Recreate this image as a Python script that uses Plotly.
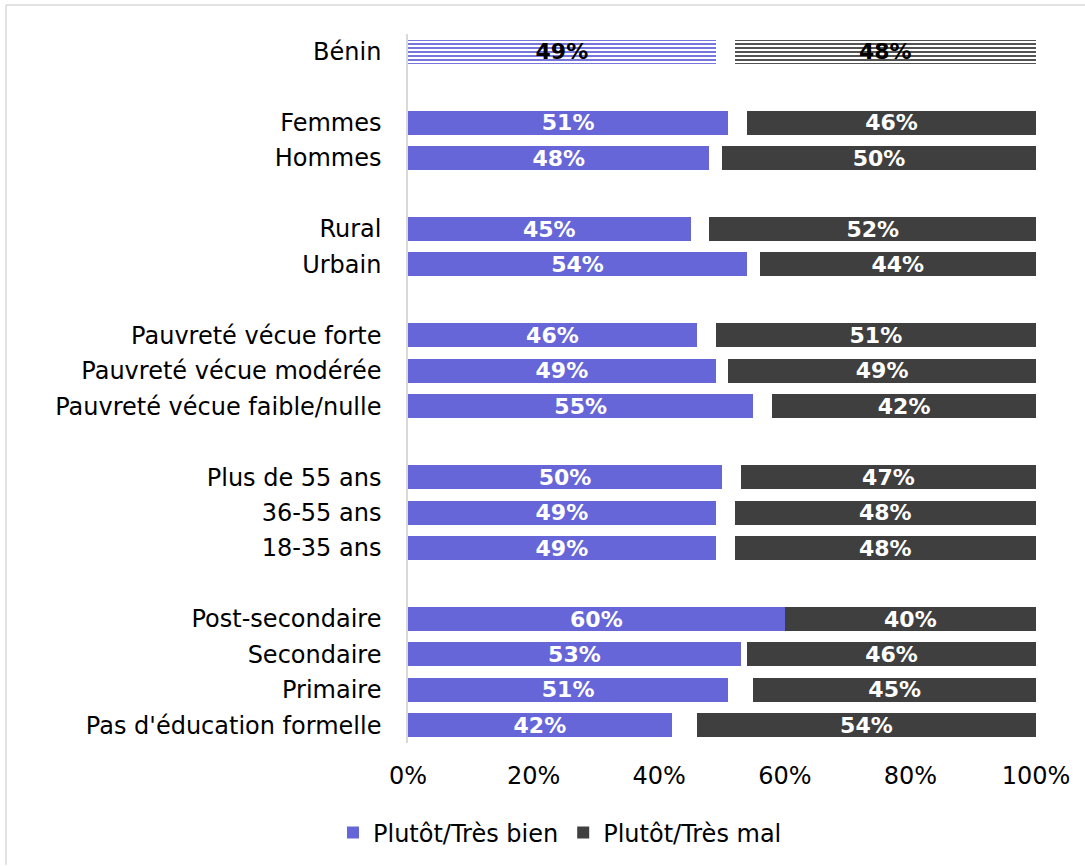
import plotly.graph_objects as go

# Groups separated by an empty slot on the category axis
categories = [
    "Bénin", "",
    "Femmes", "Hommes", "",
    "Rural", "Urbain", "",
    "Pauvreté vécue forte", "Pauvreté vécue modérée", "Pauvreté vécue faible/nulle", "",
    "Plus de 55 ans", "36-55 ans", "18-35 ans", "",
    "Post-secondaire", "Secondaire", "Primaire", "Pas d'éducation formelle",
]
bien = [49, None, 51, 48, None, 45, 54, None, 46, 49, 55, None, 50, 49, 49, None, 60, 53, 51, 42]
mal = [48, None, 46, 50, None, 52, 44, None, 51, 49, 42, None, 47, 48, 48, None, 40, 46, 45, 54]
x_ticks = [0, 20, 40, 60, 80, 100]

BLUE = "#6666D9"
DARK = "#3F3F3F"
FONT = "DejaVu Sans"
BAR_W = 0.68

rows = [i for i, c in enumerate(categories) if c]
labels = [categories[i] for i in rows]
b = [bien[i] for i in rows]
m = [mal[i] for i in rows]
gap = [100 - bb - mm for bb, mm in zip(b, m)]
is_total = [lab == "Bénin" for lab in labels]

fig = go.Figure()

def add_stack(idx, patterned, showlegend):
    ys = [rows[i] for i in idx]
    bb = [b[i] for i in idx]
    gg = [gap[i] for i in idx]
    mm = [m[i] for i in idx]
    for vals, color, name, legend in [
        (bb, BLUE, "Plutôt/Très bien", showlegend),
        (gg, "rgba(0,0,0,0)", None, False),
        (mm, DARK, "Plutôt/Très mal", showlegend),
    ]:
        marker = dict(color=color, line=dict(width=0))
        if patterned and name:
            marker["pattern"] = dict(shape="-", fgcolor=color, bgcolor="white",
                                     size=4, solidity=0.45, fillmode="replace")
        fig.add_trace(go.Bar(
            y=ys, x=vals, orientation="h", name=name, showlegend=legend,
            legendgroup=name, marker=marker, width=BAR_W, hoverinfo="skip",
        ))

# Solid bars first so the legend shows solid swatches, then the patterned total row
add_stack([i for i, t in enumerate(is_total) if not t], False, True)
add_stack([i for i, t in enumerate(is_total) if t], True, False)

# Percentage labels centred on each segment
for vals, centers in [
    (b, [v / 2 for v in b]),
    (m, [100 - v / 2 for v in m]),
]:
    fig.add_trace(go.Scatter(
        x=centers, y=[r + 0.06 for r in rows], mode="text",
        text=[f"{v}%" for v in vals], showlegend=False, hoverinfo="skip",
        textfont=dict(family=FONT, size=22, weight="bold",
                      color=["black" if t else "white" for t in is_total]),
    ))

W, H = 1085, 866
ml, mr, mt, mb = 408, 49, 34, 122
pw, ph = W - ml - mr, H - mt - mb

def px_x(x):
    return (x - ml) / pw

def px_y(y):
    return 1 - (y - mt) / ph

fig.update_layout(
    width=W, height=H, barmode="stack", bargap=0,
    margin=dict(l=ml, r=mr, t=mt, b=mb),
    paper_bgcolor="white", plot_bgcolor="white",
    font=dict(family=FONT, size=24, color="black"),
    legend=dict(
        orientation="h", x=px_x(560), xanchor="center", y=px_y(833), yanchor="middle",
        font=dict(family=FONT, size=24), traceorder="normal",
    ),
    xaxis=dict(
        range=[0, 100], tickvals=x_ticks, ticktext=[f"{v}%" for v in x_ticks],
        showgrid=False, zeroline=False, showline=False, ticks="",
        tickfont=dict(family=FONT, size=24), ticklabelstandoff=16,
    ),
    yaxis=dict(
        range=[19.5, -0.5], tickvals=rows, ticktext=labels,
        showgrid=False, zeroline=False, showline=True, linecolor="#D9D9D9", linewidth=1.5,
        ticks="", tickfont=dict(family=FONT, size=24), ticklabelstandoff=20,
    ),
    shapes=[
        dict(type="line", xref="paper", yref="paper", x0=px_x(6), x1=px_x(6), y0=px_y(5), y1=px_y(866),
             line=dict(color="#D9D9D9", width=1.5)),
        dict(type="line", xref="paper", yref="paper", x0=px_x(6), x1=px_x(1085), y0=px_y(5), y1=px_y(5),
             line=dict(color="#D9D9D9", width=1.5)),
    ],
)

fig.write_html("out.html")
